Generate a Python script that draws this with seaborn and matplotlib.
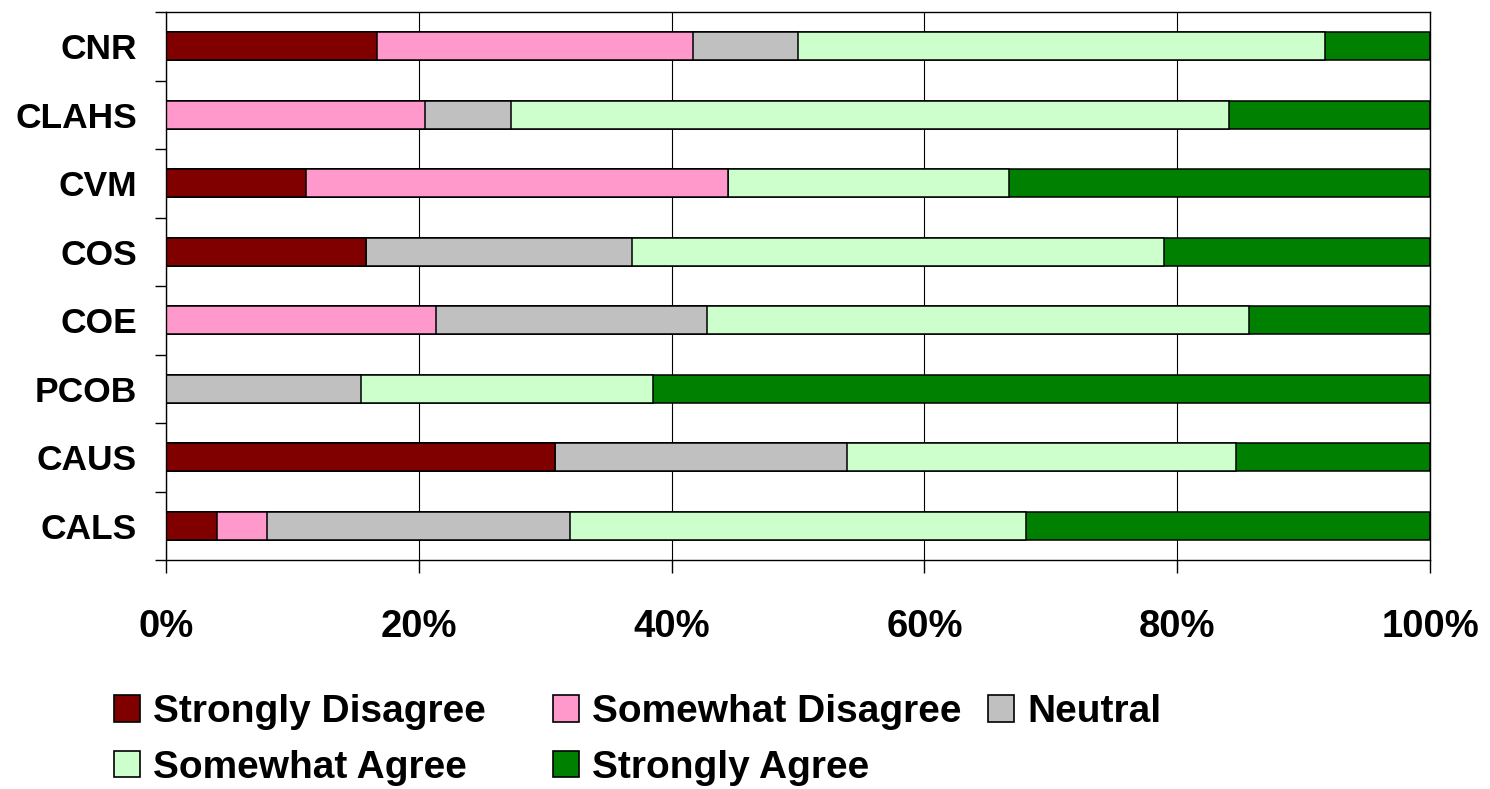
import numpy as np
import pandas as pd
import matplotlib
matplotlib.use("Agg")
import matplotlib.pyplot as plt
from matplotlib.patches import Patch
import seaborn as sns

# Survey units (top to bottom) and the share of responses in each category (%)
categories = ["CNR", "CLAHS", "CVM", "COS", "COE", "PCOB", "CAUS", "CALS"]
strongly_disagree = [16.7, 0.0, 11.1, 15.8, 0.0, 0.0, 30.8, 4.0]
somewhat_disagree = [25.0, 20.5, 33.3, 0.0, 21.4, 0.0, 0.0, 4.0]
neutral = [8.3, 6.8, 0.0, 21.1, 21.4, 15.4, 23.1, 24.0]
somewhat_agree = [41.7, 56.8, 22.2, 42.1, 42.9, 23.1, 30.8, 36.0]
strongly_agree = [8.3, 15.9, 33.3, 21.1, 14.3, 61.5, 15.4, 32.0]

series_names = ["Strongly Disagree", "Somewhat Disagree", "Neutral",
                "Somewhat Agree", "Strongly Agree"]
series_colors = ["#800000", "#FF99CC", "#C0C0C0", "#CCFFCC", "#008000"]
x_ticks = [0, 20, 40, 60, 80, 100]
x_tick_labels = ["0%", "20%", "40%", "60%", "80%", "100%"]

sns.set_theme(style="white")
plt.rcParams["font.family"] = ["Liberation Sans", "DejaVu Sans"]
plt.rcParams["font.weight"] = "bold"
plt.rcParams["text.color"] = "black"

df = pd.DataFrame(
    dict(zip(series_names, [strongly_disagree, somewhat_disagree, neutral,
                            somewhat_agree, strongly_agree])),
    index=categories,
)
# 100% stacked: normalise each row, then accumulate left to right
shares = df.div(df.sum(axis=1), axis=0) * 100
cumulative = shares.cumsum(axis=1)

W, H = 1490, 789
fig = plt.figure(figsize=(W / 100, H / 100), dpi=100)
ax = fig.add_axes([166 / W, 1 - 560 / H, (1430 - 166) / W, (560 - 12) / H])

# Draw the running totals from the longest to the shortest so each
# segment shows through on top of the next one
for name, color in reversed(list(zip(series_names, series_colors))):
    sns.barplot(x=cumulative[name].values, y=categories, orient="h",
                color=color, saturation=1, width=0.415, errorbar=None,
                edgecolor="black", linewidth=1.1, ax=ax)

ax.set_xlim(0, 100)
ax.set_ylim(len(categories) - 0.5, -0.5)
ax.set_xlabel("")
ax.set_ylabel("")

ax.set_xticks(x_ticks)
ax.set_xticklabels(x_tick_labels, fontsize=27.5, fontweight="bold")
ax.tick_params(axis="x", which="major", bottom=True, length=9.5, width=1.0,
               color="black", pad=26, labelcolor="black")

ax.set_yticks(range(len(categories)))
ax.set_yticklabels(categories, fontsize=25.5, fontweight="bold")
ax.tick_params(axis="y", which="major", left=True, length=0, pad=21,
               labelcolor="black")
ax.set_yticks(np.arange(-0.5, len(categories), 1.0), minor=True)
ax.tick_params(axis="y", which="minor", left=True, length=8, width=1.0,
               color="black")

ax.grid(axis="x", color="black", linewidth=0.8)
ax.grid(axis="y", visible=False)
ax.set_axisbelow(True)
for spine in ax.spines.values():
    spine.set_color("black")
    spine.set_linewidth(1.0)

# Legend laid out in rows: three entries on the first line, two on the second
handles = {n: Patch(facecolor=c, edgecolor="black", linewidth=1.2)
           for n, c in zip(series_names, series_colors)}
legend_columns = [
    (114, ["Strongly Disagree", "Somewhat Agree"]),
    (553, ["Somewhat Disagree", "Strongly Agree"]),
    (988, ["Neutral"]),
]
for x_px, names in legend_columns:
    leg = fig.legend(handles=[handles[n] for n in names], labels=names,
                     loc="upper left", bbox_to_anchor=(x_px / W, 1 - 694 / H),
                     frameon=False, borderpad=0, borderaxespad=0,
                     handlelength=0.67, handleheight=0.67, handletextpad=0.33,
                     labelspacing=0.51, prop={"size": 28, "weight": "bold"})
    for t in leg.get_texts():
        t.set_color("black")

fig.savefig("out.png", dpi=100, facecolor="white")
